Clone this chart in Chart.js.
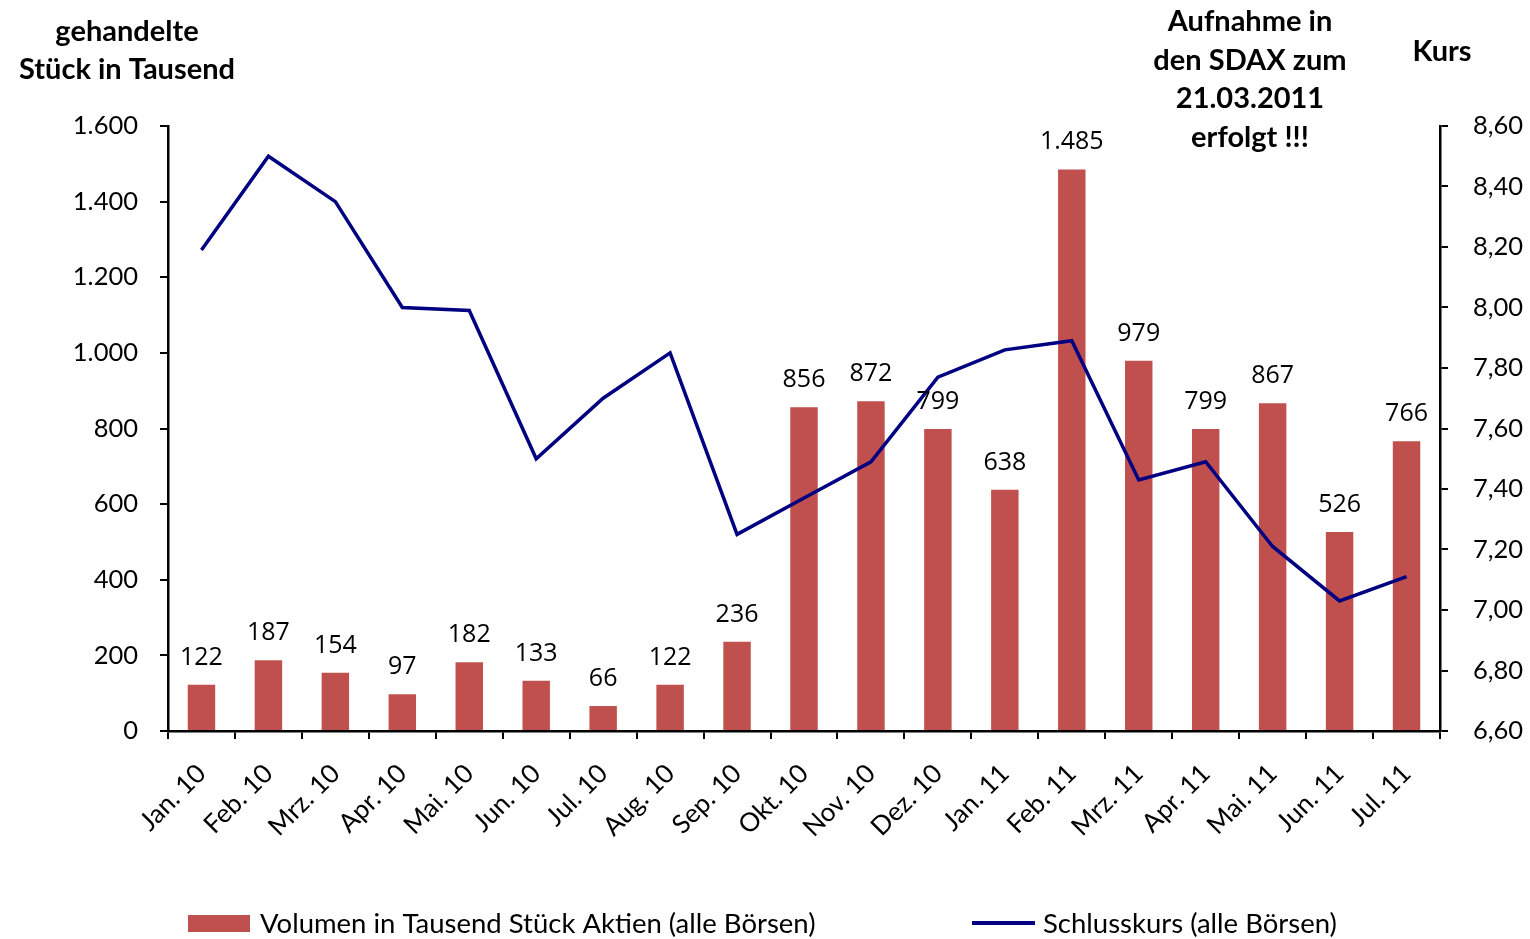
<!DOCTYPE html>
<html>
<head>
<meta charset="utf-8">
<script src="https://cdn.jsdelivr.net/npm/chart.js@4/dist/chart.umd.min.js"></script>
<style>
  html, body { margin: 0; padding: 0; background: #fff; }
  #wrap { position: relative; width: 1530px; height: 939px; }
</style>
</head>
<body>
<div id="wrap"><canvas id="chart" width="1530" height="939"></canvas></div>
<script>
// Monate
const months = ['Jan. 10', 'Feb. 10', 'Mrz. 10', 'Apr. 10', 'Mai. 10', 'Jun. 10', 'Jul. 10', 'Aug. 10',
  'Sep. 10', 'Okt. 10', 'Nov. 10', 'Dez. 10', 'Jan. 11', 'Feb. 11', 'Mrz. 11', 'Apr. 11', 'Mai. 11',
  'Jun. 11', 'Jul. 11'];

// Volumen in Tausend Stück
const volumen = [122, 187, 154, 97, 182, 133, 66, 122, 236, 856, 872, 799, 638, 1485, 979, 799, 867, 526, 766];

// Schlusskurs
const schlusskurs = [8.19, 8.50, 8.35, 8.00, 7.99, 7.50, 7.70, 7.85, 7.25, 7.37, 7.49, 7.77, 7.86, 7.89,
  7.43, 7.49, 7.21, 7.03, 7.11];

const leftTitle = ['gehandelte', 'Stück in Tausend'];
const noteTitle = ['Aufnahme in', 'den SDAX zum', '21.03.2011', 'erfolgt !!!'];
const rightTitle = 'Kurs';

const FONT = 'Lato, "Open Sans", sans-serif';
const BAR_COLOR = '#C0504D';
const LINE_COLOR = '#000080';

const fmtInt = (v) => String(Math.round(v)).replace(/\B(?=(\d{3})+(?!\d))/g, '.');
const fmtKurs = (v) => v.toFixed(2).replace('.', ',');

// Beschriftungen, Titel und Legende
const extras = {
  id: 'extras',
  afterDatasetsDraw(chart) {
    const { ctx } = chart;
    const meta = chart.getDatasetMeta(1);
    ctx.save();
    ctx.fillStyle = '#000';
    ctx.font = '25px "Open Sans", sans-serif';
    ctx.textAlign = 'center';
    ctx.textBaseline = 'alphabetic';
    meta.data.forEach((bar, i) => {
      ctx.fillText(fmtInt(volumen[i]), bar.x, bar.y - 20);
    });
    ctx.restore();
  },
  afterDraw(chart) {
    const { ctx } = chart;
    ctx.save();
    ctx.fillStyle = '#000';
    ctx.font = 'bold 29px ' + FONT;
    ctx.textAlign = 'center';
    ctx.textBaseline = 'middle';
    leftTitle.forEach((t, i) => ctx.fillText(t, 127, 32 + i * 38));
    noteTitle.forEach((t, i) => ctx.fillText(t, 1250, 22 + i * 38.5));
    ctx.fillText(rightTitle, 1442, 52);

    // Legende
    ctx.font = '27.5px ' + FONT;
    ctx.textAlign = 'left';
    ctx.fillStyle = BAR_COLOR;
    ctx.fillRect(188, 915, 62, 17);
    ctx.fillStyle = '#000';
    ctx.fillText(chart.data.datasets[1].label, 260, 924);
    ctx.strokeStyle = LINE_COLOR;
    ctx.lineWidth = 4;
    ctx.beginPath();
    ctx.moveTo(972, 923);
    ctx.lineTo(1035, 923);
    ctx.stroke();
    ctx.fillText(chart.data.datasets[0].label, 1043, 924);
    ctx.restore();
  }
};

const axisGrid = {
  drawOnChartArea: false,
  drawTicks: true,
  tickLength: 8,
  color: '#000',
  lineWidth: 2
};

new Chart(document.getElementById('chart'), {
  data: {
    labels: months,
    datasets: [
      {
        type: 'line',
        label: 'Schlusskurs (alle Börsen)',
        data: schlusskurs,
        yAxisID: 'y1',
        borderColor: LINE_COLOR,
        borderWidth: 3.5,
        pointRadius: 0,
        tension: 0,
        fill: false,
        order: 0
      },
      {
        type: 'bar',
        label: 'Volumen in Tausend Stück Aktien (alle Börsen)',
        data: volumen,
        yAxisID: 'y',
        backgroundColor: BAR_COLOR,
        borderWidth: 0,
        barPercentage: 1,
        categoryPercentage: 0.41,
        order: 1
      }
    ]
  },
  options: {
    responsive: false,
    animation: false,
    layout: { padding: { top: 126, left: 0, right: 0, bottom: 0 } },
    plugins: { legend: { display: false }, tooltip: { enabled: false } },
    scales: {
      x: {
        offset: true,
        grid: { ...axisGrid, offset: true },
        border: { color: '#000', width: 2.5 },
        ticks: {
          color: '#000',
          font: { family: FONT, size: 26 },
          maxRotation: 45,
          minRotation: 45,
          autoSkip: false,
          padding: 19
        },
        afterFit: (s) => { s.height = 208; }
      },
      y: {
        position: 'left',
        min: 0,
        max: 1600,
        grid: axisGrid,
        border: { color: '#000', width: 2.5 },
        ticks: {
          stepSize: 200,
          color: '#000',
          font: { family: FONT, size: 25.5 },
          padding: 22,
          callback: (v) => fmtInt(v)
        },
        afterFit: (s) => { s.width = 168; }
      },
      y1: {
        position: 'right',
        min: 6.6,
        max: 8.6,
        grid: axisGrid,
        border: { color: '#000', width: 2.5 },
        ticks: {
          stepSize: 0.2,
          color: '#000',
          font: { family: FONT, size: 25.5 },
          padding: 25,
          callback: (v) => fmtKurs(v)
        },
        afterFit: (s) => { s.width = 90; }
      }
    }
  },
  plugins: [extras]
});
</script>
</body>
</html>
